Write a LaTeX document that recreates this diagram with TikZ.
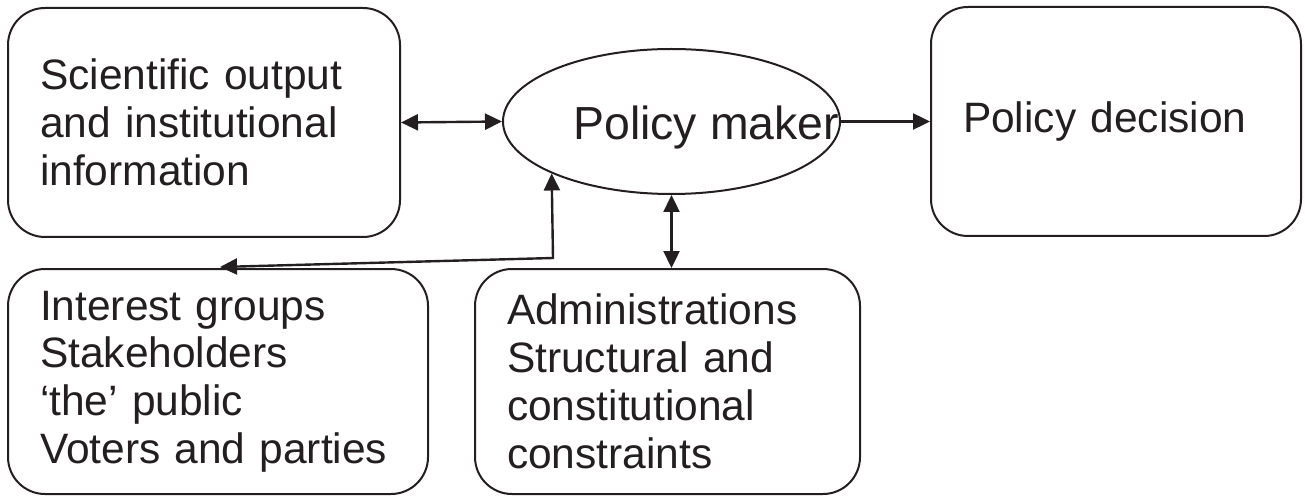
\documentclass[tikz,border=0pt]{standalone}
\usepackage{fontspec}
\setmainfont{Liberation Sans}
\usetikzlibrary{shapes.geometric,arrows.meta}
\definecolor{ink}{HTML}{231F20}
\tikzset{
  box/.style={draw=ink, line width=1pt, rounded corners=18.5pt, inner xsep=16pt, inner ysep=0pt,
    align=left, text=ink, font=\fontsize{21.25}{23.9}\selectfont},
  tip/.style={arrows={-Triangle[length=8.5pt,width=8pt]}},
  conn/.style={draw=ink, line width=1.2pt, arrows={-Triangle[length=8.5pt,width=8pt]}},
  dconn/.style={draw=ink, line width=1.2pt, arrows={Triangle[length=8.5pt,width=8pt]-Triangle[length=8.5pt,width=8pt]}}
}
\begin{document}
\begin{tikzpicture}[x=0.5pt,y=-0.5pt]
\useasboundingbox (0,0) rectangle (1305,497);
\node[box, minimum width=196pt, minimum height=114.5pt, text width=164pt] (sci) at (204,122.5)
  {Scientific output\\and institutional\\information};
\node[box, minimum width=185pt, minimum height=114.5pt, text width=153pt] (dec) at (1116,121.5)
  {Policy decision};
\node[box, minimum width=210pt, minimum height=112.5pt, text width=178pt] (ig) at (218,381.5)
  {Interest groups\\Stakeholders\\‘the’ public\\Voters and parties};
\node[box, minimum width=192.5pt, minimum height=112.5pt, text width=160.5pt] (adm) at (667.5,381.5)
  {Administrations\\Structural and\\constitutional\\constraints};
\node[ellipse, draw=ink, line width=1pt, minimum width=168.5pt, minimum height=72.5pt, inner sep=0pt] (pm) at (671.5,121.5) {};
\node[anchor=base west, inner sep=0pt, text=ink, font=\fontsize{23.2}{26}\selectfont] (pmt) at (573,140) {Policy maker};
\coordinate (igtip) at (220,267);
\coordinate (bend) at (553,258);
\draw[dconn] (sci.east) -- (pm.west);
\draw[conn] (pm.east) -- (dec.west);
\draw[dconn] (pm.south) -- (pm.south |- adm.north);
\draw[dconn] (pm.south west) -- (bend) -- (igtip);
\end{tikzpicture}
\end{document}
